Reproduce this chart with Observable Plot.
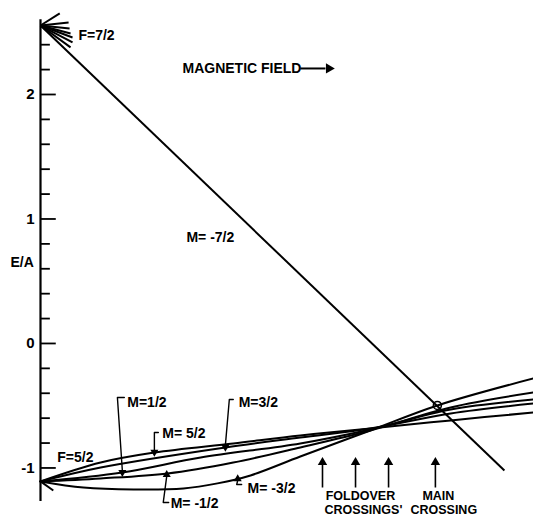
<!DOCTYPE html>
<html><head><meta charset="utf-8">
<script src="https://cdn.jsdelivr.net/npm/d3@7"></script>
<script src="https://cdn.jsdelivr.net/npm/@observablehq/plot@0.6"></script>
<style>body{margin:0;background:#fff}#chart{width:533px;height:517px}</style>
</head><body><div id="chart"></div>
<script>
// ---- Data (field B in arbitrary units 0..1, energy E/A) ----
const m52B = [0, 0.122, 0.231, 0.391, 0.527, 0.669, 0.832, 1.0];
const m52E = [-1.108, -0.956, -0.876, -0.803, -0.739, -0.683, -0.618, -0.554];

const m32B = [0, 0.122, 0.375, 0.527, 0.669, 0.832, 1.0];
const m32E = [-1.108, -0.996, -0.835, -0.755, -0.683, -0.562, -0.482];

const m12B = [0, 0.166, 0.325, 0.527, 0.669, 0.832, 1.0];
const m12E = [-1.108, -1.036, -0.916, -0.803, -0.691, -0.530, -0.450];

const mm12B = [0, 0.122, 0.258, 0.391, 0.527, 0.669, 0.832, 1.0];
const mm12E = [-1.108, -1.084, -1.044, -0.956, -0.835, -0.699, -0.514, -0.394];

const mm32B = [0, 0.087, 0.189, 0.290, 0.359, 0.426, 0.527, 0.669, 0.805, 1.0];
const mm32E = [-1.108, -1.157, -1.173, -1.165, -1.124, -1.060, -0.908, -0.699, -0.498, -0.281];

const mm72B = [0, 0.941];
const mm72E = [2.554, -1.020];

// short stubs of the other F=7/2 and F=5/2 levels
const f72Origin = 2.554;
const f72StubB = [0.039, 0.057, 0.059, 0.061, 0.065, 0.065, 0.061];
const f72StubE = [2.651, 2.578, 2.530, 2.490, 2.458, 2.418, 2.378];
const f52Origin = -1.108;
const f52StubB = [0.026];
const f52StubE = [-1.181];

const mainCrossing = {b: 0.805, e: -0.498};

// axis ticks
const minorTicks = [-0.8, -0.6, -0.4, -0.2, 0.2, 0.4, 0.6, 0.8, 1.2, 1.4, 1.6, 1.8, 2.2, 2.4];
const majorTicks = [-1, 0, 1, 2];
const majorLabels = ["-1", "0", "1", "2"];

// crossings indicated by arrows
const foldoverB = [0.572, 0.639, 0.706];
const mainCrossB = [0.801];

// ---- build tables ----
const series = [
  ["M=5/2", m52B, m52E], ["M=3/2", m32B, m32E], ["M=1/2", m12B, m12E],
  ["M=-1/2", mm12B, mm12E], ["M=-3/2", mm32B, mm32E]
];
const curveRows = series.flatMap(([s, B, E]) => B.map((b, i) => ({s, b, e: E[i]})));
const stubs = [
  ...f72StubB.map((b, i) => ({b1: 0, e1: f72Origin, b2: b, e2: f72StubE[i]})),
  ...f52StubB.map((b, i) => ({b1: 0, e1: f52Origin, b2: b, e2: f52StubE[i]})),
  {b1: mm72B[0], e1: mm72E[0], b2: mm72B[1], e2: mm72E[1]}
];

const font = "'Liberation Sans', Arial, sans-serif";
const txt = (t, x, y, opts = {}) => Plot.text([t], {x: () => x, y: () => y, text: d => d,
  fontFamily: font, fontSize: 14, fontWeight: "bold", fill: "black", textAnchor: "start", ...opts});

// leader lines: polylines in data coords
const leaders = [
  {id: "a", pts: [[0.170, -0.434], [0.156, -0.434], [0.166, -1.020]], head: [0.166, -1.036], rot: 180},
  {id: "b", pts: [[0.239, -0.715], [0.231, -0.715], [0.231, -0.859]], head: [0.231, -0.872], rot: 180},
  {id: "c", pts: [[0.391, -0.450], [0.383, -0.450], [0.375, -0.819]], head: [0.375, -0.832], rot: 180},
  {id: "d", pts: [[0.260, -1.277], [0.249, -1.277], [0.256, -1.068]], head: [0.256, -1.054], rot: 0},
  {id: "e", pts: [[0.408, -1.133], [0.398, -1.133], [0.400, -1.100]], head: [0.400, -1.088], rot: 0}
];
const leaderRows = leaders.flatMap(l => l.pts.map(([b, e]) => ({id: l.id, b, e})));
const heads = leaders.map(l => ({b: l.head[0], e: l.head[1], rot: l.rot}));

const upArrows = [...foldoverB, ...mainCrossB];

const chart = Plot.plot({
  width: 533, height: 517,
  marginLeft: 40, marginRight: 0, marginTop: 0, marginBottom: 0,
  x: {domain: [0, 1], axis: null},
  y: {domain: [-1.398, 2.755], axis: null},
  style: {background: "white"},
  marks: [
    // y axis
    Plot.ruleX([0], {x: d => d, y1: -1.27, y2: 2.6, stroke: "black", strokeWidth: 2.2}),
    Plot.ruleY(minorTicks, {y: d => d, x1: 0, x2: 0.02, stroke: "black", strokeWidth: 1.8}),
    Plot.ruleY(majorTicks, {y: d => d, x1: 0, x2: 0.032, stroke: "black", strokeWidth: 1.8}),
    Plot.text(majorTicks, {x: () => 0, y: d => d, text: (d, i) => majorLabels[i], dx: -6,
      textAnchor: "end", fontFamily: font, fontSize: 15, fontWeight: "bold"}),
    // energy levels
    Plot.line(curveRows, {x: "b", y: "e", z: "s", curve: "catmull-rom", stroke: "black", strokeWidth: 2}),
    Plot.link(stubs, {x1: "b1", y1: "e1", x2: "b2", y2: "e2", stroke: "black", strokeWidth: 2}),
    Plot.dot([mainCrossing], {x: "b", y: "e", r: 4, stroke: "black", strokeWidth: 1.6, fill: "none"}),
    // leaders
    Plot.line(leaderRows, {x: "b", y: "e", z: "id", stroke: "black", strokeWidth: 1.4}),
    Plot.dot(heads, {x: "b", y: "e", symbol: "triangle", r: 3, fill: "black", rotate: "rot"}),
    // crossing arrows
    Plot.link(upArrows, {x1: d => d, x2: d => d, y1: -1.157, y2: -0.975, stroke: "black", strokeWidth: 1.6}),
    Plot.dot(upArrows, {x: d => d, y: -0.955, symbol: "triangle", r: 3.5, fill: "black"}),
    // magnetic field arrow
    Plot.link([0], {x1: 0.527, x2: 0.578, y1: 2.209, y2: 2.209, stroke: "black", strokeWidth: 2}),
    Plot.dot([0], {x: 0.585, y: 2.209, symbol: "triangle", r: 3.8, fill: "black", rotate: 90}),
    // labels
    txt("F=7/2", 0.077, 2.474),
    txt("MAGNETIC FIELD", 0.288, 2.209),
    txt("M= -7/2", 0.296, 0.85),
    txt("E/A", -0.061, 0.651),
    txt("F=5/2", 0.034, -0.916),
    txt("M=1/2", 0.176, -0.474),
    txt("M= 5/2", 0.247, -0.723),
    txt("M=3/2", 0.402, -0.474),
    txt("M= -1/2", 0.264, -1.285),
    txt("M= -3/2", 0.420, -1.165),
    txt("FOLDOVER", 0.649, -1.229, {textAnchor: "middle", fontSize: 12.5}),
    txt("CROSSINGS'", 0.655, -1.341, {textAnchor: "middle", fontSize: 12.5}),
    txt("MAIN", 0.807, -1.229, {textAnchor: "middle", fontSize: 12.5}),
    txt("CROSSING", 0.818, -1.341, {textAnchor: "middle", fontSize: 12.5})
  ]
});
document.getElementById("chart").appendChild(chart);
</script></body></html>
